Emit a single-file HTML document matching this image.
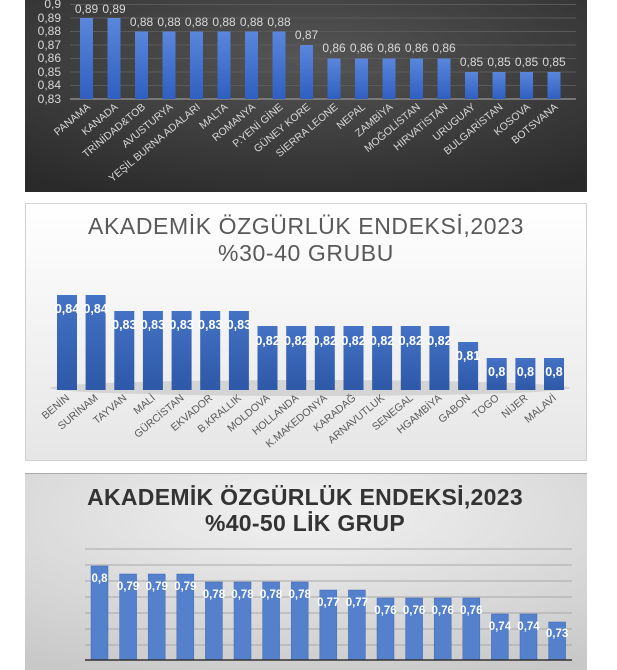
<!DOCTYPE html>
<html><head><meta charset="utf-8"><style>
html,body{margin:0;padding:0;background:#fff;}
svg{display:block;font-family:"Liberation Sans",sans-serif;}
</style></head><body>
<svg width="617" height="670" viewBox="0 0 617 670" xmlns="http://www.w3.org/2000/svg">
<defs>
<radialGradient id="dk" cx="0.5" cy="0.3" r="0.8"><stop offset="0" stop-color="#555"/><stop offset="1" stop-color="#2a2a2a"/></radialGradient>
<linearGradient id="b1" x1="0" y1="0" x2="0" y2="1"><stop offset="0" stop-color="#5a86dc"/><stop offset="1" stop-color="#2f5fc0"/></linearGradient>
<linearGradient id="b2" x1="0" y1="0" x2="0" y2="1"><stop offset="0" stop-color="#4472c4"/><stop offset="1" stop-color="#2e58a8"/></linearGradient>
<linearGradient id="w2" x1="0" y1="0" x2="0" y2="1"><stop offset="0" stop-color="#ffffff"/><stop offset="1" stop-color="#e6e6e6"/></linearGradient>
<radialGradient id="g3" cx="0.5" cy="0.2" r="0.9"><stop offset="0" stop-color="#f2f2f2"/><stop offset="1" stop-color="#c8c8c8"/></radialGradient>
</defs>

<!-- Chart 1 -->
<rect x="25" y="0" width="562" height="192" fill="url(#dk)"/>
<g stroke="#5a5a5a" stroke-width="1">
<line x1="70" y1="4.5" x2="576" y2="4.5"/><line x1="70" y1="18" x2="576" y2="18"/><line x1="70" y1="31.5" x2="576" y2="31.5"/><line x1="70" y1="45" x2="576" y2="45"/><line x1="70" y1="58.5" x2="576" y2="58.5"/><line x1="70" y1="72" x2="576" y2="72"/><line x1="70" y1="85.5" x2="576" y2="85.5"/>
</g>
<line x1="70" y1="99" x2="576" y2="99" stroke="#8a8a8a" stroke-width="1.5"/>
<g fill="#d8d8d8" font-size="12" text-anchor="end">
<text x="61" y="8">0,9</text><text x="61" y="22">0,89</text><text x="61" y="35">0,88</text><text x="61" y="49">0,87</text><text x="61" y="62">0,86</text><text x="61" y="76">0,85</text><text x="61" y="89">0,84</text><text x="61" y="103">0,83</text>
</g>
<g fill="url(#b1)">
<rect x="80" y="18" width="13" height="81"/><rect x="107.5" y="18" width="13" height="81"/><rect x="135" y="31.5" width="13" height="67.5"/><rect x="162.5" y="31.5" width="13" height="67.5"/><rect x="190" y="31.5" width="13" height="67.5"/><rect x="217.5" y="31.5" width="13" height="67.5"/><rect x="245" y="31.5" width="13" height="67.5"/><rect x="272.5" y="31.5" width="13" height="67.5"/><rect x="300" y="45" width="13" height="54"/><rect x="327.5" y="58.5" width="13" height="40.5"/><rect x="355" y="58.5" width="13" height="40.5"/><rect x="382.5" y="58.5" width="13" height="40.5"/><rect x="410" y="58.5" width="13" height="40.5"/><rect x="437.5" y="58.5" width="13" height="40.5"/><rect x="465" y="72" width="13" height="27"/><rect x="492.5" y="72" width="13" height="27"/><rect x="520" y="72" width="13" height="27"/><rect x="547.5" y="72" width="13" height="27"/>
</g>
<g fill="#d8d8d8" font-size="12" text-anchor="middle">
<text x="86.5" y="13">0,89</text><text x="114" y="13">0,89</text><text x="141.5" y="26">0,88</text><text x="169" y="26">0,88</text><text x="196.5" y="26">0,88</text><text x="224" y="26">0,88</text><text x="251.5" y="26">0,88</text><text x="279" y="26">0,88</text><text x="306.5" y="39">0,87</text><text x="334" y="52">0,86</text><text x="361.5" y="52">0,86</text><text x="389" y="52">0,86</text><text x="416.5" y="52">0,86</text><text x="444" y="52">0,86</text><text x="471.5" y="66">0,85</text><text x="499" y="66">0,85</text><text x="526.5" y="66">0,85</text><text x="554" y="66">0,85</text>
</g>
<g fill="#d8d8d8" font-size="10.5" text-anchor="end">
<text transform="translate(91,108) rotate(-40)">PANAMA</text>
<text transform="translate(118.5,108) rotate(-40)">KANADA</text>
<text transform="translate(146,108) rotate(-40)">TRİNİDAD&amp;TOB</text>
<text transform="translate(173.5,108) rotate(-40)">AVUSTURYA</text>
<text transform="translate(201,108) rotate(-40)">YEŞİL BURNA ADALARI</text>
<text transform="translate(228.5,108) rotate(-40)">MALTA</text>
<text transform="translate(256,108) rotate(-40)">ROMANYA</text>
<text transform="translate(283.5,108) rotate(-40)">P.YENİ GİNE</text>
<text transform="translate(311,108) rotate(-40)">GÜNEY KORE</text>
<text transform="translate(338.5,108) rotate(-40)">SİERRA LEONE</text>
<text transform="translate(366,108) rotate(-40)">NEPAL</text>
<text transform="translate(393.5,108) rotate(-40)">ZAMBİYA</text>
<text transform="translate(421,108) rotate(-40)">MOĞOLİSTAN</text>
<text transform="translate(448.5,108) rotate(-40)">HIRVATİSTAN</text>
<text transform="translate(476,108) rotate(-40)">URUGUAY</text>
<text transform="translate(503.5,108) rotate(-40)">BULGARİSTAN</text>
<text transform="translate(531,108) rotate(-40)">KOSOVA</text>
<text transform="translate(558.5,108) rotate(-40)">BOTSVANA</text>
</g>

<!-- Chart 2 -->
<rect x="25.5" y="203.5" width="561" height="257" fill="url(#w2)" stroke="#d0d0d0"/>
<ellipse cx="310" cy="388" rx="260" ry="8" fill="#bbb" opacity="0.5"/>
<g fill="#595959" font-size="23" text-anchor="middle" letter-spacing="0.6">
<text x="306" y="234">AKADEMİK ÖZGÜRLÜK ENDEKSİ,2023</text>
<text x="306" y="261">%30-40 GRUBU</text>
</g>
<g fill="url(#b2)">
<rect x="57" y="295" width="20" height="95"/><rect x="85.6" y="295" width="20" height="95"/><rect x="114.3" y="311" width="20" height="79"/><rect x="142.9" y="311" width="20" height="79"/><rect x="171.6" y="311" width="20" height="79"/><rect x="200.2" y="311" width="20" height="79"/><rect x="228.9" y="311" width="20" height="79"/><rect x="257.5" y="326" width="20" height="64"/><rect x="286.2" y="326" width="20" height="64"/><rect x="314.8" y="326" width="20" height="64"/><rect x="343.5" y="326" width="20" height="64"/><rect x="372.1" y="326" width="20" height="64"/><rect x="400.8" y="326" width="20" height="64"/><rect x="429.4" y="326" width="20" height="64"/><rect x="458.1" y="342" width="20" height="48"/><rect x="486.7" y="358" width="20" height="32"/><rect x="515.4" y="358" width="20" height="32"/><rect x="544" y="358" width="20" height="32"/>
</g>
<g fill="#fff" font-size="12.5" font-weight="bold" text-anchor="middle">
<text x="67" y="313">0,84</text><text x="95.6" y="313">0,84</text><text x="124.3" y="329">0,83</text><text x="152.9" y="329">0,83</text><text x="181.6" y="329">0,83</text><text x="210.2" y="329">0,83</text><text x="238.9" y="329">0,83</text><text x="267.5" y="345">0,82</text><text x="296.2" y="345">0,82</text><text x="324.8" y="345">0,82</text><text x="353.5" y="345">0,82</text><text x="382.1" y="345">0,82</text><text x="410.8" y="345">0,82</text><text x="439.4" y="345">0,82</text><text x="468.1" y="360">0,81</text><text x="496.7" y="376">0,8</text><text x="525.4" y="376">0,8</text><text x="554" y="376">0,8</text>
</g>
<g fill="#595959" font-size="10.5" text-anchor="end">
<text transform="translate(70,399) rotate(-40)">BENİN</text>
<text transform="translate(98.6,399) rotate(-40)">SURİNAM</text>
<text transform="translate(127.3,399) rotate(-40)">TAYVAN</text>
<text transform="translate(155.9,399) rotate(-40)">MALİ</text>
<text transform="translate(184.6,399) rotate(-40)">GÜRCİSTAN</text>
<text transform="translate(213.2,399) rotate(-40)">EKVADOR</text>
<text transform="translate(241.9,399) rotate(-40)">B.KRALLIK</text>
<text transform="translate(270.5,399) rotate(-40)">MOLDOVA</text>
<text transform="translate(299.2,399) rotate(-40)">HOLLANDA</text>
<text transform="translate(327.8,399) rotate(-40)">K.MAKEDONYA</text>
<text transform="translate(356.5,399) rotate(-40)">KARADAĞ</text>
<text transform="translate(385.1,399) rotate(-40)">ARNAVUTLUK</text>
<text transform="translate(413.8,399) rotate(-40)">SENEGAL</text>
<text transform="translate(442.4,399) rotate(-40)">HGAMBİYA</text>
<text transform="translate(471.1,399) rotate(-40)">GABON</text>
<text transform="translate(499.7,399) rotate(-40)">TOGO</text>
<text transform="translate(528.4,399) rotate(-40)">NİJER</text>
<text transform="translate(557,399) rotate(-40)">MALAVİ</text>
</g>

<!-- Chart 3 -->
<rect x="25" y="473" width="562" height="197" fill="url(#g3)"/>
<line x1="25" y1="473.5" x2="587" y2="473.5" stroke="#aaa"/>
<g fill="#333" font-size="23" font-weight="bold" text-anchor="middle" letter-spacing="0.3">
<text x="305" y="505">AKADEMİK ÖZGÜRLÜK ENDEKSİ,2023</text>
<text x="305" y="531">%40-50 LİK GRUP</text>
</g>
<g stroke="#a8a8a8" stroke-width="1">
<line x1="85" y1="549" x2="572" y2="549"/><line x1="85" y1="565" x2="572" y2="565"/><line x1="85" y1="581" x2="572" y2="581"/><line x1="85" y1="597" x2="572" y2="597"/><line x1="85" y1="613" x2="572" y2="613"/><line x1="85" y1="629" x2="572" y2="629"/><line x1="85" y1="645" x2="572" y2="645"/>
</g>
<g fill="#5580cc" stroke="#3f6ab8" stroke-width="0.5">
<rect x="91" y="566" width="17" height="94"/><rect x="119.6" y="574" width="17" height="86"/><rect x="148.2" y="574" width="17" height="86"/><rect x="176.8" y="574" width="17" height="86"/><rect x="205.4" y="582" width="17" height="78"/><rect x="234" y="582" width="17" height="78"/><rect x="262.6" y="582" width="17" height="78"/><rect x="291.2" y="582" width="17" height="78"/><rect x="319.8" y="590" width="17" height="70"/><rect x="348.4" y="590" width="17" height="70"/><rect x="377" y="598" width="17" height="62"/><rect x="405.6" y="598" width="17" height="62"/><rect x="434.2" y="598" width="17" height="62"/><rect x="462.8" y="598" width="17" height="62"/><rect x="491.4" y="614" width="17" height="46"/><rect x="520" y="614" width="17" height="46"/><rect x="548.6" y="622" width="17" height="38"/>
</g>
<line x1="85" y1="660" x2="572" y2="660" stroke="#333" stroke-width="1.5"/>
<g fill="#fff" font-size="11.5" font-weight="bold" text-anchor="middle">
<text x="99.5" y="582">0,8</text><text x="128.1" y="590">0,79</text><text x="156.7" y="590">0,79</text><text x="185.3" y="590">0,79</text><text x="213.9" y="598">0,78</text><text x="242.5" y="598">0,78</text><text x="271.1" y="598">0,78</text><text x="299.7" y="598">0,78</text><text x="328.3" y="606">0,77</text><text x="356.9" y="606">0,77</text><text x="385.5" y="614">0,76</text><text x="414.1" y="614">0,76</text><text x="442.7" y="614">0,76</text><text x="471.3" y="614">0,76</text><text x="499.9" y="630">0,74</text><text x="528.5" y="630">0,74</text><text x="557.1" y="637">0,73</text>
</g>
</svg>
</body></html>
